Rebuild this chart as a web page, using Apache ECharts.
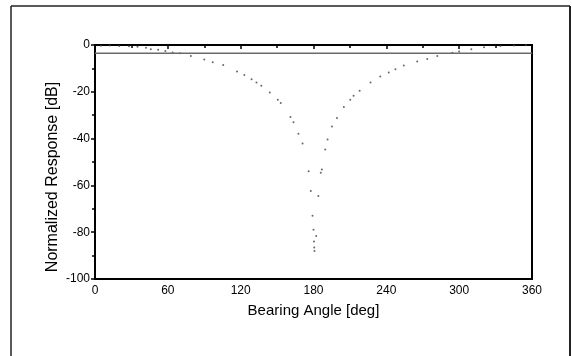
<!DOCTYPE html>
<html>
<head>
<meta charset="utf-8">
<script src="https://cdn.jsdelivr.net/npm/echarts@6/dist/echarts.min.js"></script>
<style>
html, body { margin: 0; padding: 0; background: #fff; }
#chart { width: 572px; height: 356px; }
</style>
</head>
<body>
<div id="chart"></div>
<script>
// Measured bearing response (deg, dB)
const bearingDeg = [5, 12, 20, 28, 35, 42, 46, 52, 58, 64, 70, 79, 90, 97, 105.6, 117, 123, 129, 133, 137, 144, 150.6, 153, 161, 163.5, 167.6, 171, 176, 177.8, 179.2, 180, 180.4, 180.6, 180.8,
  182.2, 184, 186, 186.9, 189.7, 191.6, 195.2, 199.3, 205, 210.3, 213, 218, 227, 235, 242, 247.5, 254.4, 265.4, 273.7, 282, 294.4, 300, 310, 320.5, 334, 345, 355];
const responseDb = [-0.3, -0.2, -0.4, -0.5, -0.8, -1.2, -1.8, -2.0, -2.6, -3.2, -3.5, -4.7, -6.2, -7.4, -8.5, -11.3, -12.8, -14.6, -16, -17.4, -20.3, -23.4, -24.8, -30.8, -33, -37.9, -42.1, -53.9, -62.4, -73, -79, -84, -86.5, -88,
  -81.6, -64.5, -54.6, -53.2, -44.7, -40.4, -34.8, -31.2, -26.5, -23.4, -21.7, -19.6, -16, -13.5, -11.8, -10.4, -8.8, -7.1, -6, -4.7, -3.3, -2.8, -1.8, -1, -0.4, -0.2, -0.1];

// Reference level line
const refDeg = [0, 360];
const refDb = [-3.5, -3.5];

// Axis ticks
const xTicks = [0, 60, 120, 180, 240, 300, 360];
const yTicks = [0, -20, -40, -60, -80, -100];

const font = '"Liberation Sans", Arial, sans-serif';

const chart = echarts.init(document.getElementById('chart'), null, { renderer: 'canvas' });
chart.setOption({
  backgroundColor: '#fff',
  animation: false,
  grid: { left: 95, right: 40, top: 45, bottom: 77, show: true, borderColor: '#000', borderWidth: 2 },
  xAxis: {
    type: 'value',
    min: xTicks[0], max: xTicks[xTicks.length - 1], interval: 60,
    name: 'Bearing Angle [deg]',
    nameLocation: 'middle', nameGap: 24,
    nameTextStyle: { fontFamily: font, fontSize: 15, color: '#000' },
    axisLine: { show: true, lineStyle: { color: '#000', width: 1.5 } },
    axisTick: { show: true, length: 4, lineStyle: { color: '#000', width: 1.5 } },
    minorTick: { show: true, splitNumber: 2, length: 3, lineStyle: { color: '#000', width: 1.5 } },
    axisLabel: { fontFamily: font, fontSize: 12, color: '#000', margin: 6 },
    splitLine: { show: false }
  },
  yAxis: {
    type: 'value',
    min: yTicks[yTicks.length - 1], max: yTicks[0], interval: 20,
    name: 'Normalized Response [dB]',
    nameLocation: 'middle', nameGap: 34, nameRotate: 90,
    nameMoveOverlap: false,
    nameTextStyle: { fontFamily: font, fontSize: 16, color: '#000', padding: [0, 30, 0, 0] },
    axisLine: { show: true, lineStyle: { color: '#000', width: 1.5 } },
    axisTick: { show: true, length: 4, lineStyle: { color: '#000', width: 1.5 } },
    minorTick: { show: true, splitNumber: 2, length: 3, lineStyle: { color: '#000', width: 1.5 } },
    axisLabel: { fontFamily: font, fontSize: 12, color: '#000', margin: 5 },
    splitLine: { show: false }
  },
  series: [
    {
      type: 'line',
      data: refDeg.map((d, i) => [d, refDb[i]]),
      symbol: 'none',
      lineStyle: { color: '#6a6a6a', width: 1.5 },
      silent: true
    },
    {
      type: 'scatter',
      data: bearingDeg.map((d, i) => [d, responseDb[i]]),
      symbol: 'circle',
      symbolSize: 2,
      itemStyle: { color: '#444' },
      silent: true
    }
  ],
  graphic: [
    { type: 'line', shape: { x1: 11, y1: 6, x2: 570, y2: 6 }, style: { stroke: '#222', lineWidth: 1.5 } },
    { type: 'line', shape: { x1: 11, y1: 6, x2: 11, y2: 356 }, style: { stroke: '#222', lineWidth: 1.5 } },
    { type: 'line', shape: { x1: 570, y1: 6, x2: 570, y2: 356 }, style: { stroke: '#222', lineWidth: 2 } }
  ]
});
</script>
</body>
</html>
